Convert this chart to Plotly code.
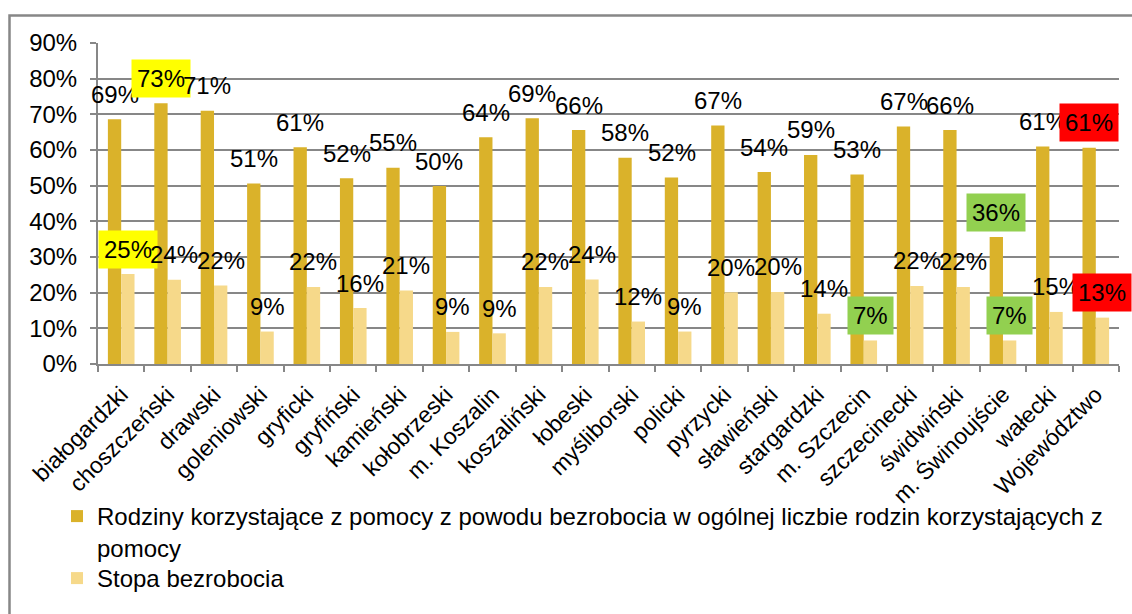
import plotly.graph_objects as go

categories = ["białogardzki", "choszczeński", "drawski", "goleniowski", "gryficki",
              "gryfiński", "kamieński", "kołobrzeski", "m. Koszalin", "koszaliński",
              "łobeski", "myśliborski", "policki", "pyrzycki", "sławieński",
              "stargardzki", "m. Szczecin", "szczecinecki", "świdwiński",
              "m. Świnoujście", "wałecki", "Województwo"]

rodziny = [0.686, 0.731, 0.710, 0.506, 0.608, 0.521, 0.550, 0.499, 0.636, 0.689, 0.656,
           0.578, 0.523, 0.669, 0.538, 0.586, 0.531, 0.666, 0.656, 0.356, 0.610, 0.606]

stopa = [0.252, 0.236, 0.220, 0.091, 0.216, 0.157, 0.206, 0.090, 0.086, 0.216, 0.237,
         0.119, 0.091, 0.201, 0.202, 0.141, 0.066, 0.219, 0.216, 0.066, 0.146, 0.130]

name_rodziny = ("Rodziny korzystające z pomocy z powodu bezrobocia w ogólnej liczbie "
                "rodzin korzystających z<br>pomocy")
name_stopa = "Stopa bezrobocia"

# highlighted data labels: category -> background colour
hl_rodziny = {"choszczeński": "#FFFF00", "m. Świnoujście": "#92D050", "Województwo": "#FF0000"}
hl_stopa = {"białogardzki": "#FFFF00", "m. Szczecin": "#92D050",
            "m. Świnoujście": "#92D050", "Województwo": "#FF0000"}

DARK = "#DAB22A"
LIGHT = "#F6D98A"
GRID = "#878787"
FONT = "Liberation Sans, Arial, sans-serif"

fig = go.Figure()
fig.add_trace(go.Bar(x=categories, y=rodziny, name=name_rodziny, marker_color=DARK,
                     marker_line_width=0, legend="legend"))
fig.add_trace(go.Bar(x=categories, y=stopa, name=name_stopa, marker_color=LIGHT,
                     marker_line_width=0, legend="legend2"))

annotations = []
for vals, shift, hl in ((rodziny, -6.6, hl_rodziny), (stopa, 6.6, hl_stopa)):
    for c, v in zip(categories, vals):
        a = dict(x=c, y=v, xref="x", yref="y", text=f"{round(v * 100)}%",
                 showarrow=False, xshift=shift, yshift=25, yanchor="middle",
                 font=dict(size=24, color="#000000", family=FONT))
        if c in hl:
            a.update(bgcolor=hl[c], borderpad=5)
        annotations.append(a)

W, H = 1132, 614
L, R, T, B = 98, 13, 43, 250
pw, ph = W - L - R, H - T - B

def px(xp):
    return (xp - L) / pw

def py(yp):
    return (H - B - yp) / ph

legend_common = dict(xanchor="left", yanchor="top", font=dict(size=24, family=FONT),
                     valign="top", bgcolor="rgba(0,0,0,0)", itemclick=False,
                     borderwidth=0)

fig.update_layout(
    width=W, height=H,
    margin=dict(l=L, r=R, t=T, b=B, autoexpand=False),
    paper_bgcolor="white", plot_bgcolor="white",
    font=dict(family=FONT, size=24, color="#000000"),
    barmode="group", bargap=0.426, bargroupgap=0,
    annotations=annotations,
    showlegend=True,
    legend=dict(x=px(57), y=py(494), **legend_common),
    legend2=dict(x=px(57), y=py(556), **legend_common),
    shapes=[dict(type="rect", xref="paper", yref="paper",
                 x0=px(9.5), x1=px(1140), y0=py(640), y1=py(15.5),
                 line=dict(color="#878787", width=2.5), fillcolor="rgba(0,0,0,0)",
                 layer="below")],
)

fig.update_yaxes(range=[0, 0.9], dtick=0.1, tickformat=".0%",
                 showgrid=True, gridcolor=GRID, gridwidth=2,
                 showline=True, linecolor=GRID, linewidth=2,
                 ticks="outside", ticklen=6, tickcolor=GRID, tickwidth=2,
                 ticklabelstandoff=8, zeroline=False,
                 tickfont=dict(size=24, family=FONT))
fig.update_xaxes(type="category", range=[-0.5, len(categories) - 0.5],
                 tickson="boundaries", ticks="outside", ticklen=6,
                 tickcolor=GRID, tickwidth=2, showline=True, linecolor=GRID,
                 linewidth=2, tickangle=-45, showgrid=False, ticklabelstandoff=6,
                 tickfont=dict(size=23, family=FONT))

fig.write_html("out.html", config={"displayModeBar": False},
               post_script="document.body.style.margin='0';document.body.style.overflow='hidden';")
